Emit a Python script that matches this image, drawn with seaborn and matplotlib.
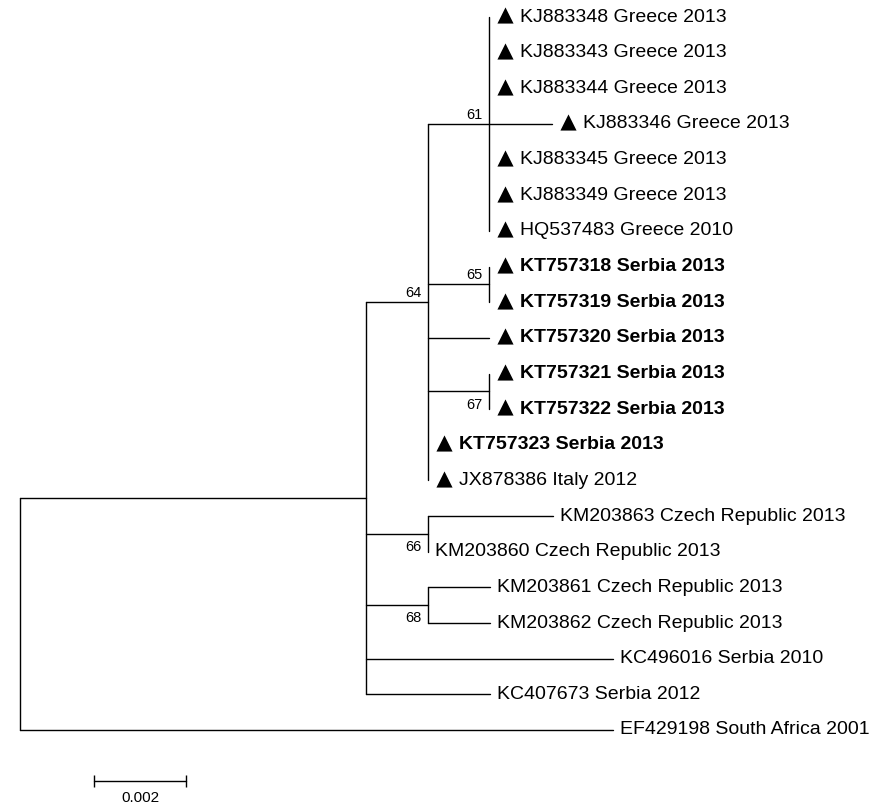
import matplotlib
matplotlib.use("Agg")
import matplotlib.pyplot as plt
import matplotlib.transforms as mtransforms
import seaborn as sns
import pandas as pd

# ---------------- data ----------------
greece = ["KJ883348 Greece 2013", "KJ883343 Greece 2013", "KJ883344 Greece 2013",
          "KJ883346 Greece 2013", "KJ883345 Greece 2013", "KJ883349 Greece 2013",
          "HQ537483 Greece 2010"]
greece_bl = [0.0, 0.0, 0.0, 0.00137, 0.0, 0.0, 0.0]
serbia13 = ["KT757318 Serbia 2013", "KT757319 Serbia 2013", "KT757320 Serbia 2013",
            "KT757321 Serbia 2013", "KT757322 Serbia 2013", "KT757323 Serbia 2013"]
czech = ["KM203863 Czech Republic 2013", "KM203860 Czech Republic 2013",
         "KM203861 Czech Republic 2013", "KM203862 Czech Republic 2013"]
czech_bl = [0.00272, 0.0, 0.00135, 0.00135]
others = ["JX878386 Italy 2012", "KC496016 Serbia 2010", "KC407673 Serbia 2012",
          "EF429198 South Africa 2001"]
others_bl = [0.0, 0.00537, 0.00270, 0.01289]

bold_leaves = set(serbia13)
triangle_leaves = set(greece + serbia13 + ["JX878386 Italy 2012"])

# internal node branch lengths and bootstrap values
main_bl = 0.00752
clade_bl = {"c64": 0.00135, "c61": 0.00133, "c65": 0.00133, "c67": 0.00133,
            "c66": 0.00135, "c68": 0.00135}
KT757320_bl = 0.00133
bootstrap = {"c61": 61, "c64": 64, "c65": 65, "c66": 66, "c67": 67, "c68": 68}
bs_above = {"c61", "c64", "c65"}
scale_len = 0.002
scale_label = "0.002"

# tree: (name, branch_length, children)  leaves have children None
tree = ("root", 0.0, [
    ("main", main_bl, [
        ("c64", clade_bl["c64"], [
            ("c61", clade_bl["c61"], [(n, b, None) for n, b in zip(greece, greece_bl)]),
            ("c65", clade_bl["c65"], [(serbia13[0], 0.0, None), (serbia13[1], 0.0, None)]),
            (serbia13[2], KT757320_bl, None),
            ("c67", clade_bl["c67"], [(serbia13[3], 0.0, None), (serbia13[4], 0.0, None)]),
            (serbia13[5], 0.0, None),
            (others[0], others_bl[0], None),
        ]),
        ("c66", clade_bl["c66"], [(czech[0], czech_bl[0], None), (czech[1], czech_bl[1], None)]),
        ("c68", clade_bl["c68"], [(czech[2], czech_bl[2], None), (czech[3], czech_bl[3], None)]),
        (others[1], others_bl[1], None),
        (others[2], others_bl[2], None),
    ]),
    (others[3], others_bl[3], None),
])

# ---------------- layout ----------------
segments = []   # (seg_id, x, y)
leaves = []     # (name, x, y)
internals = []  # (name, x, y)
counter = [0]
seg_id = [0]


def add_seg(x0, y0, x1, y1):
    segments.append((seg_id[0], x0, y0))
    segments.append((seg_id[0], x1, y1))
    seg_id[0] += 1


def layout(node, parent_x):
    name, bl, children = node
    x = parent_x + bl
    if children is None:
        y = counter[0]
        counter[0] += 1
        leaves.append((name, x, y))
    else:
        ys = [layout(c, x) for c in children]
        y = (ys[0] + ys[-1]) / 2.0
        add_seg(x, ys[0], x, ys[-1])
        internals.append((name, x, y))
    if name != "root":
        add_seg(parent_x, y, x, y)
    return y


layout(tree, 0.0)
seg_df = pd.DataFrame(segments, columns=["seg", "x", "y"])
leaf_df = pd.DataFrame(leaves, columns=["name", "x", "y"])
tri_df = leaf_df[leaf_df["name"].isin(triangle_leaves)]

# ---------------- plot ----------------
sns.set_style("white")
plt.rcParams["font.family"] = ["Liberation Sans", "DejaVu Sans"]
plt.rcParams["text.color"] = "black"

fig = plt.figure(figsize=(8.9, 8.08), dpi=100)
ax = fig.add_axes([0, 0, 1, 1])
PX = 46000.0  # pixels per unit branch length
ax.set_xlim(-20 / PX, 870 / PX)
ax.set_ylim((808 - 17) / 35.65, -17 / 35.65)

sns.lineplot(data=seg_df, x="x", y="y", units="seg", estimator=None, sort=False,
             color="black", linewidth=1.0, ax=ax, legend=False)

tri_trans = mtransforms.offset_copy(ax.transData, fig=fig, x=11.5, y=1.2, units="points")
sns.scatterplot(data=tri_df, x="x", y="y", marker="^", s=135, color="black",
                edgecolor="black", linewidth=0, ax=ax, legend=False, transform=tri_trans)

for _, r in leaf_df.iterrows():
    off = 22.3 if r["name"] in triangle_leaves else 5.0
    ax.annotate(r["name"], (r["x"], r["y"]), xytext=(off, 0), textcoords="offset points",
                ha="left", va="center", fontsize=14, color="black",
                fontweight="bold" if r["name"] in bold_leaves else "normal")

for name, x, y in internals:
    if name in bootstrap:
        if name in bs_above:
            ax.annotate(str(bootstrap[name]), (x, y), xytext=(-4.5, 1.5),
                        textcoords="offset points", ha="right", va="bottom",
                        fontsize=10.5, color="black")
        else:
            ax.annotate(str(bootstrap[name]), (x, y), xytext=(-4.5, -4.5),
                        textcoords="offset points", ha="right", va="top",
                        fontsize=10.5, color="black")

# scale bar
sb_x0 = 74 / PX
sb_y = (781 - 17) / 35.65
ax.plot([sb_x0, sb_x0 + scale_len], [sb_y, sb_y], color="black", lw=1.0,
        marker="|", markersize=9, markeredgewidth=1.0)
ax.annotate(scale_label, (sb_x0 + scale_len / 2, sb_y), xytext=(0, -12),
            textcoords="offset points", ha="center", va="center", fontsize=11,
            color="black")

ax.set_axis_off()
fig.savefig("out.png", dpi=100)
